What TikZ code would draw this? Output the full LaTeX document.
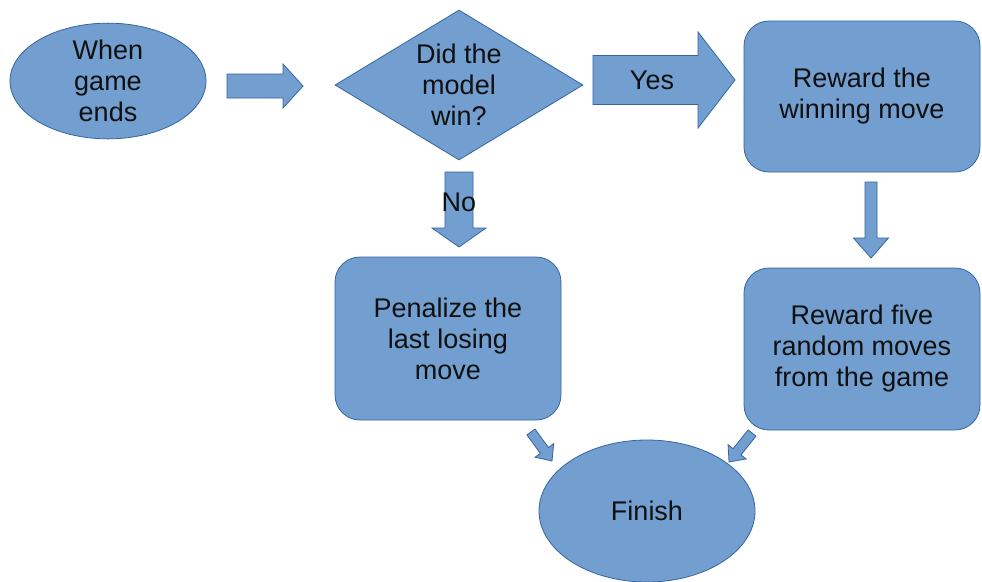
\documentclass[tikz,border=0pt]{standalone}
\usepackage{fontspec}
\setmainfont{Liberation Sans}
\usetikzlibrary{shapes.geometric,calc}
\definecolor{boxfill}{HTML}{729FCF}
\definecolor{boxline}{HTML}{3465A4}
\definecolor{txt}{HTML}{101010}
\tikzset{
  shapebase/.style={fill=boxfill, draw=boxline, line width=0.8pt, text=txt,
    align=center, inner sep=0pt, font=\fontsize{27}{31}\selectfont},
  oval/.style={shapebase, ellipse},
  decision/.style={shapebase, diamond},
  roundbox/.style={shapebase, rectangle, rounded corners=25pt},
  blockarrow/.style={fill=boxfill, draw=boxline, line width=0.8pt, line join=miter},
  lbl/.style={text=txt, font=\fontsize{27}{31}\selectfont, inner sep=0pt}
}
\newcommand\blockarrow[5]{%
  \path let \p1=($(#2)-(#1)$) in \pgfextra{%
    \pgfmathsetmacro\baang{atan2(\y1,\x1)}%
    \pgfmathsetmacro\balen{veclen(\x1,\y1)}%
    \global\let\baang\baang\global\let\balen\balen};
  \draw[blockarrow, shift={(#1)}, rotate=\baang]
    (0,#3/2) -- (\balen-#5,#3/2) -- (\balen-#5,#4/2) -- (\balen,0)
    -- (\balen-#5,-#4/2) -- (\balen-#5,-#3/2) -- (0,-#3/2) -- cycle;
}
\begin{document}
\begin{tikzpicture}[x=1pt,y=-1pt]
\useasboundingbox (0,0) rectangle (982,581);
\fill[white] (0,0) rectangle (982,581);

\node[oval, minimum width=196pt, minimum height=97pt] (when) at (108,81) {When\\game\\ends};
\node[decision, minimum width=248pt, minimum height=150pt, aspect=1.65] (did) at (459,85) {};
\node[lbl, align=center] (didt) at (459,85) {Did the\\model\\win?};
\node[roundbox, minimum width=236pt, minimum height=151pt] (win) at (862,96.5) {Reward the\\winning move};
\node[roundbox, minimum width=236pt, minimum height=162pt] (five) at (862,349) {Reward five\\random moves\\from the game};
\node[roundbox, minimum width=226pt, minimum height=163pt] (pen) at (448,338.5) {Penalize the\\last losing\\move};
\node[oval, minimum width=216pt, minimum height=142pt] (fin) at (647,511) {Finish};

% arrow end points
\coordinate (a1s) at (227,86);  \coordinate (a1e) at (303,86);
\coordinate (a2s) at (593,80);  \coordinate (a2e) at (735,80);
\coordinate (a3s) at (459,172); \coordinate (a3e) at (459,247);
\coordinate (a4s) at (871,182); \coordinate (a4e) at (871,258);
\coordinate (a5s) at (531,432); \coordinate (a5e) at (552,461);
\coordinate (a6s) at (752,433); \coordinate (a6e) at (729,462);

\blockarrow{a1s}{a1e}{24}{44}{20}
\blockarrow{a2s}{a2e}{49}{96}{37}
\blockarrow{a3s}{a3e}{28}{54}{19}
\blockarrow{a4s}{a4e}{12}{35}{20}
\blockarrow{a5s}{a5e}{10}{23}{13}
\blockarrow{a6s}{a6e}{10}{23}{13}

\node[lbl] (yes) at (652,80) {Yes};
\node[lbl] (no) at (459,202) {No};
\end{tikzpicture}
\end{document}
